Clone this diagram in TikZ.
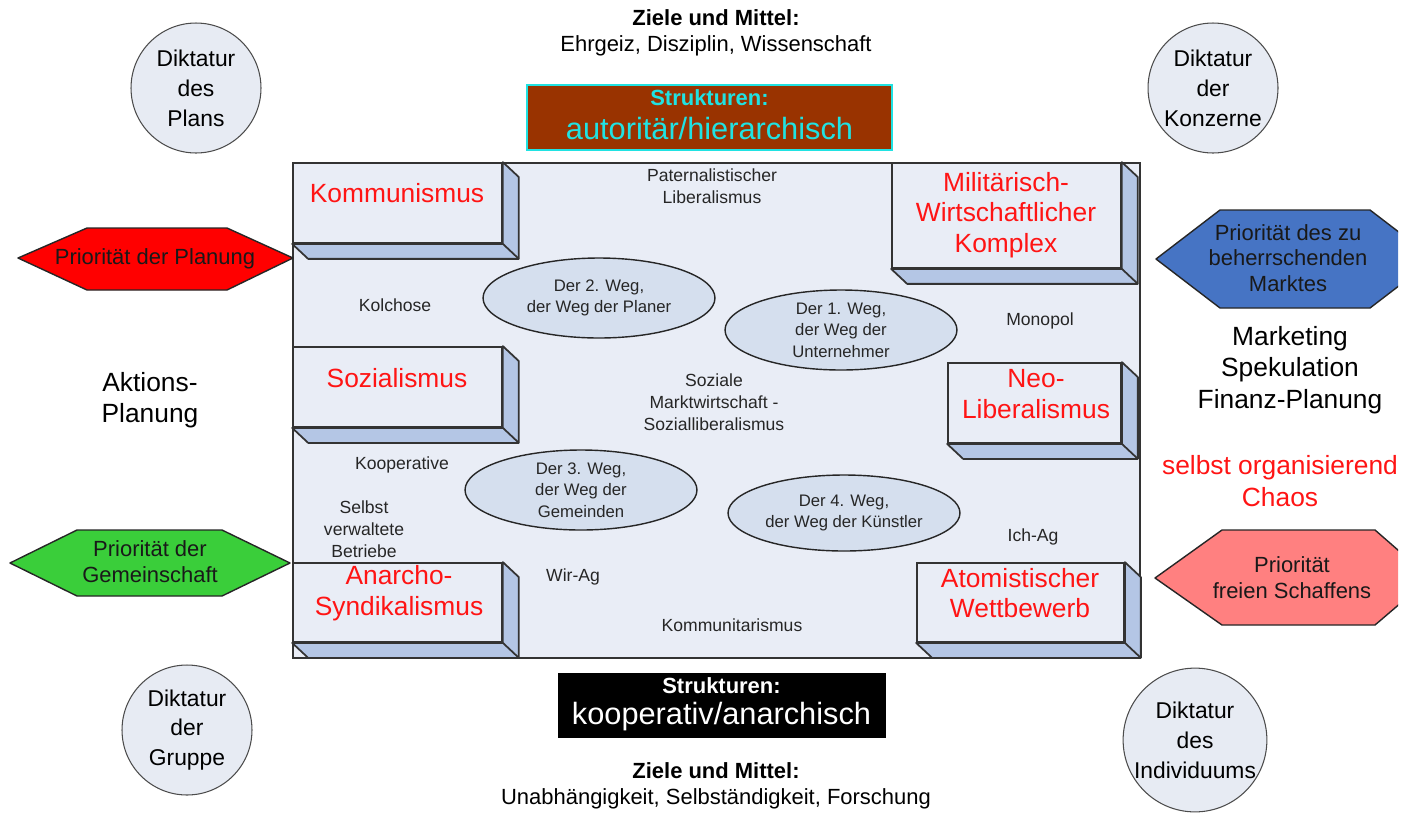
\documentclass[tikz,border=0pt]{standalone}
\usepackage{fontspec}
\setmainfont{Liberation Sans}
\usetikzlibrary{shapes.geometric}
\definecolor{panelbg}{RGB}{233,237,246}
\definecolor{slabside}{RGB}{180,198,229}
\definecolor{wegbg}{RGB}{213,223,238}
\definecolor{kreisbg}{RGB}{231,235,243}
\definecolor{braun}{RGB}{153,51,0}
\definecolor{tuerkis}{RGB}{32,226,226}
\definecolor{rot}{RGB}{255,20,20}
\definecolor{gruen}{RGB}{58,206,58}
\definecolor{blau}{RGB}{70,116,196}
\definecolor{lachs}{RGB}{255,128,128}
\tikzset{
  slab/.style={draw=black!80,line width=1pt,fill=panelbg,inner sep=0pt},
  slabface/.style={draw=black!80,line width=1pt,fill=slabside,line join=round},
  slabtxt/.style={text=rot,align=center,font=\fontsize{15}{17.5}\selectfont},
  klein/.style={align=center,text=black!85,font=\fontsize{10}{12.5}\selectfont},
  weg/.style={ellipse,draw=black!85,line width=0.8pt,fill=wegbg,minimum width=4.64cm,minimum height=1.6cm,inner sep=0pt,align=center,text=black!85,font=\fontsize{9.5}{12.2}\selectfont},
  kreis/.style={circle,draw=black!70,line width=0.6pt,fill=kreisbg,minimum size=2.6cm,inner sep=0pt,align=center,font=\fontsize{13}{17}\selectfont},
  hex/.style={draw=black!85,line width=0.8pt,line join=round},
  hextxt/.style={align=center,text=black!90,font=\fontsize{12.5}{14.7}\selectfont},
  gross/.style={align=center,font=\fontsize{15}{18}\selectfont},
  mitte/.style={align=center,font=\fontsize{12.5}{14.7}\selectfont}
}

\begin{document}
\begin{tikzpicture}[x=0.02cm,y=-0.02cm]
\useasboundingbox (0,0) rectangle (1406,829);
\clip (0,0) rectangle (1398,829);

\draw[draw=black!80,line width=1pt,fill=panelbg] (293,163) rectangle (1140,658);

\node[mitte] (zielO) at (716,33) {\textbf{Ziele und Mittel:}\\Ehrgeiz, Disziplin, Wissenschaft};
\node[mitte] (zielU) at (716,786) {\textbf{Ziele und Mittel:}\\Unabhängigkeit, Selbständigkeit, Forschung};

\node[draw=tuerkis,line width=1pt,fill=braun,minimum width=7.3cm,minimum height=1.3cm] (hier) at (709.5,117.5) {};
\node[text=tuerkis,font=\bfseries\fontsize{12.5}{14}\selectfont] (hierA) at (709.5,98) {Strukturen:};
\node[text=tuerkis,font=\fontsize{17.5}{20}\selectfont] (hierB) at (709.5,129) {autoritär/hierarchisch};

\node[draw=black,fill=black,minimum width=6.54cm,minimum height=1.28cm] (koop) at (721.5,705) {};
\node[text=white,font=\bfseries\fontsize{12.5}{14}\selectfont] (koopA) at (721.5,686) {Strukturen:};
\node[text=white,font=\fontsize{17.5}{20}\selectfont] (koopB) at (721.5,717) {kooperativ/anarchisch};

\node[slab,minimum width=4.18cm,minimum height=1.6cm] (komm) at (397.5,203) {};
\node[slab,minimum width=4.58cm,minimum height=2.1cm] (mil) at (1006.5,215.5) {};
\node[slab,minimum width=4.18cm,minimum height=1.6cm] (soz) at (397.5,387) {};
\node[slab,minimum width=3.46cm,minimum height=1.6cm] (neo) at (1034.5,403) {};
\node[slab,minimum width=4.18cm,minimum height=1.58cm] (anar) at (397.5,602.5) {};
\node[slab,minimum width=4.14cm,minimum height=1.58cm] (atom) at (1020.5,602.5) {};
\foreach \b in {komm,mil,soz,neo,anar,atom}{
  \draw[slabface] (\b.north east) -- ++(16,15) -- ([shift={(16,15)}]\b.south east)
    -- ([shift={(16,15)}]\b.south west) -- (\b.south west) -- (\b.south east) -- cycle;
  \draw[slabface] (\b.south east) -- ++(16,15);
}
\node[slabtxt] (kommT) at (397,193) {Kommunismus};
\node[slabtxt] (milT) at (1006,215) {Militärisch-\\Wirtschaftlicher\\Komplex};
\node[slabtxt] (sozT) at (397,378) {Sozialismus};
\node[slabtxt] (neoT) at (1036,394) {Neo-\\Liberalismus};
\node[slabtxt] (anarT) at (399,593) {Anarcho-\\Syndikalismus};
\node[slabtxt] (atomT) at (1020,593) {Atomistischer\\Wettbewerb};

\node[klein] (pat) at (712,186) {Paternalistischer\\Liberalismus};
\node[klein] (kol) at (395,305) {Kolchose};
\node[klein] (mono) at (1040,321) {Monopol};
\node[klein] (sm) at (714,402) {Soziale\\Marktwirtschaft -\\Sozialliberalismus};
\node[klein] (kv) at (402,465) {Kooperative};
\node[klein] (sv) at (364,529) {Selbst\\verwaltete\\Betriebe};
\node[klein] (wir) at (573,577) {Wir-Ag};
\node[klein] (ich) at (1033,537) {Ich-Ag};
\node[klein] (kt) at (732,625) {Kommunitarismus};

\node[weg] (weg2) at (599,298) {Der 2. Weg,\\der Weg der Planer};
\node[weg] (weg1) at (841,330) {Der 1. Weg,\\der Weg der\\Unternehmer};
\node[weg] (weg3) at (581,490) {Der 3. Weg,\\der Weg der\\Gemeinden};
\node[weg,minimum height=1.52cm] (weg4) at (844,513) {Der 4. Weg,\\der Weg der Künstler};

\node[kreis] (plan) at (196,88) {Diktatur\\des\\Plans};
\node[kreis] (konz) at (1213,88) {Diktatur\\der\\Konzerne};
\node[kreis] (grup) at (187,730) {Diktatur\\der\\Gruppe};
\node[kreis,minimum size=2.8cm] (indi) at (1195,740) {Diktatur\\des\\Individuums};

\draw[hex,fill=red] (18,258) -- (87,228) -- (227,228) -- (293,258) -- (227,290) -- (87,290) -- cycle;
\node[hextxt] (prioP) at (155,259) {Priorität der Planung};
\draw[hex,fill=gruen] (10,563) -- (77,530) -- (222,530) -- (290,563) -- (222,596) -- (77,596) -- cycle;
\node[hextxt] (prioG) at (150,562) {Priorität der\\Gemeinschaft};
\draw[hex,fill=blau] (1156,259) -- (1220,210) -- (1370,210) -- (1434,259) -- (1370,308) -- (1220,308) -- cycle;
\node[hextxt] (prioM) at (1288,258) {Priorität des zu\\beherrschenden\\Marktes};
\draw[hex,fill=lachs] (1155,578) -- (1222,530) -- (1375,530) -- (1430,578) -- (1375,625) -- (1222,625) -- cycle;
\node[hextxt] (prioS) at (1292,578) {Priorität\\freien Schaffens};

\node[gross] (akt) at (150,400) {Aktions-\\Planung};
\node[gross] (mark) at (1290,370) {Marketing\\Spekulation\\Finanz-Planung};
\node[gross,text=rot] (chaos) at (1280,481) {selbst organisierend\\Chaos};
\end{tikzpicture}
\end{document}
